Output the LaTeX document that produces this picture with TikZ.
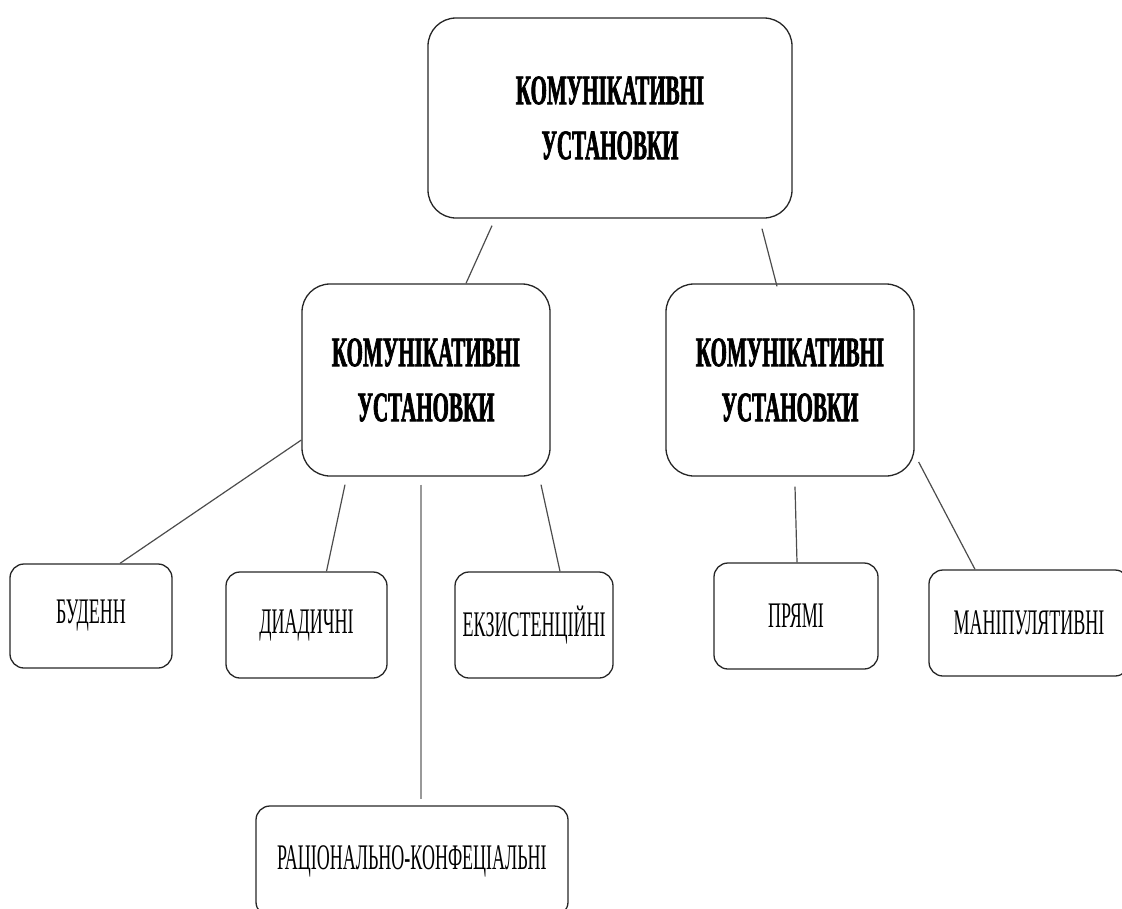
\documentclass[tikz,border=0pt]{standalone}
\usepackage{fontspec}
\newfontfamily\narrowserif[FakeStretch=0.5,BoldFeatures={FakeBold=1.5}]{Liberation Serif}
\usepackage{tikz}

\tikzset{
	box/.style={draw=black!85,line width=1.3pt,rounded corners=14pt,inner sep=0pt,
		align=center,font=\narrowserif\fontsize{36}{44}\selectfont},
	bigbox/.style={box,rounded corners=28pt,font=\narrowserif\bfseries\fontsize{42}{55}\selectfont},
	link/.style={draw=black!70,line width=1.2pt},
	graylink/.style={draw=black!40,line width=2pt}
}

\begin{document}
\begin{tikzpicture}[x=1pt,y=-1pt]
\useasboundingbox (0,0) rectangle (1122,908);
\clip (0,0) rectangle (1122,908);

% upper levels
\node[bigbox,minimum width=364pt,minimum height=200pt] (top) at (610,118) {КОМУНІКАТИВНІ\\УСТАНОВКИ};
\node[bigbox,minimum width=248pt,minimum height=192pt] (lmid) at (426,380) {КОМУНІКАТИВНІ\\УСТАНОВКИ};
\node[bigbox,minimum width=248pt,minimum height=192pt] (rmid) at (790,380) {КОМУНІКАТИВНІ\\УСТАНОВКИ};

% lower level
\node[box,minimum width=162pt,minimum height=104pt] (bud) at (91,616) {БУДЕНН};
\node[box,minimum width=161pt,minimum height=106pt] (diad) at (306.5,625) {ДИАДИЧНІ};
\node[box,minimum width=158pt,minimum height=106pt] (ekz) at (534,625) {ЕКЗИСТЕНЦІЙНІ};
\node[box,minimum width=164pt,minimum height=106pt] (pr) at (796,616) {ПРЯМІ};
\node[box,minimum width=200pt,minimum height=106pt] (man) at (1029,623) {МАНІПУЛЯТИВНІ};
\node[box,minimum width=312pt,minimum height=110pt] (rac) at (412,861) {РАЦІОНАЛЬНО-КОНФЕЦІАЛЬНІ};

% connectors
\draw[link] ([xshift=-118pt,yshift=-7pt]top.south) -- ([xshift=40pt]lmid.north);
\draw[link] ([xshift=152pt,yshift=-10pt]top.south) -- ([xshift=-13pt,yshift=-3pt]rmid.north);

\draw[link] ([yshift=-60pt]lmid.west) -- ([xshift=29pt]bud.north);
\draw[link] ([xshift=-81pt,yshift=-8pt]lmid.south) -- ([xshift=20pt]diad.north);
\draw[graylink] ([xshift=-5pt,yshift=-8pt]lmid.south) -- ([xshift=9pt,yshift=6pt]rac.north);
\draw[link] ([xshift=115pt,yshift=-8pt]lmid.south) -- ([xshift=26pt]ekz.north);

\draw[link] ([xshift=5pt,yshift=-10pt]rmid.south) -- ([xshift=1pt]pr.north);
\draw[link] ([xshift=4pt,yshift=-82pt]rmid.east) -- ([xshift=-54pt]man.north);
\end{tikzpicture}
\end{document}
